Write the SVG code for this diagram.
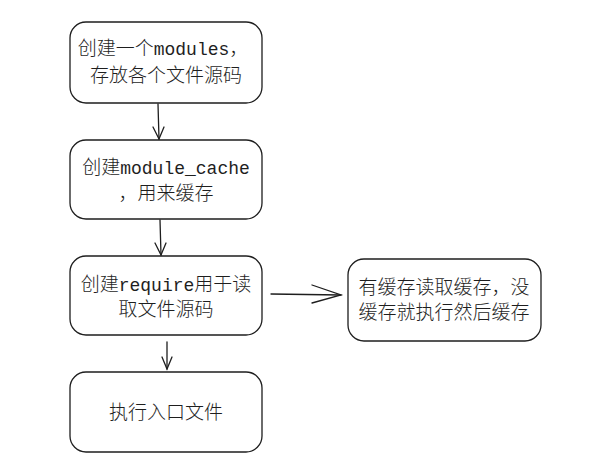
<svg xmlns="http://www.w3.org/2000/svg" width="604" height="464" viewBox="0 0 604 464">
<style>
.box{fill:#ffffff;stroke:#1e1e1e;stroke-width:1.3}
.t{font-family:"Noto Sans CJK SC","Noto Sans",sans-serif;font-size:19px;font-weight:300;fill:#1e1e1e;text-anchor:middle}
.m{font-family:"Liberation Mono","DejaVu Sans Mono",monospace;font-size:18px;font-weight:400}
.ln{fill:none;stroke:#1e1e1e;stroke-width:1.3;stroke-linecap:round}
</style>
<rect width="604" height="464" fill="#ffffff"/>
<g id="connectors">
<path class="ln" d="M158 104 L159 139"/>
<path class="ln" d="M153 127 L159 139 L164 127"/>
<path class="ln" d="M160 220 L161 255"/>
<path class="ln" d="M155 243 L161 255 L166 243"/>
<path class="ln" d="M167 342 L167 369"/>
<path class="ln" d="M162 357 L167 369 L172 357"/>
<path class="ln" d="M271 294 L341 295"/>
<path class="ln" d="M312 285 L341 295 L312 303"/>
</g>
<g id="n1">
<rect class="box" x="70" y="22" width="192" height="81" rx="16"/>
<text class="t" x="163" y="55">创建一个<tspan class="m">modules</tspan>，</text>
<text class="t" x="166" y="82">存放各个文件源码</text>
</g>
<g id="n2">
<rect class="box" x="70" y="140" width="192" height="79" rx="16"/>
<text class="t" x="166" y="174">创建<tspan class="m">module_cache</tspan></text>
<text class="t" x="166" y="200">，用来缓存</text>
</g>
<g id="n3">
<rect class="box" x="70" y="256" width="192" height="79" rx="16"/>
<text class="t" x="166" y="291">创建<tspan class="m">require</tspan>用于读</text>
<text class="t" x="166" y="316">取文件源码</text>
</g>
<g id="n4">
<rect class="box" x="348" y="259" width="193" height="82" rx="16"/>
<text class="t" x="444" y="294">有缓存读取缓存，没</text>
<text class="t" x="444" y="319">缓存就执行然后缓存</text>
</g>
<g id="n5">
<rect class="box" x="70" y="372" width="192" height="80" rx="16"/>
<text class="t" x="166" y="419">执行入口文件</text>
</g>
</svg>
